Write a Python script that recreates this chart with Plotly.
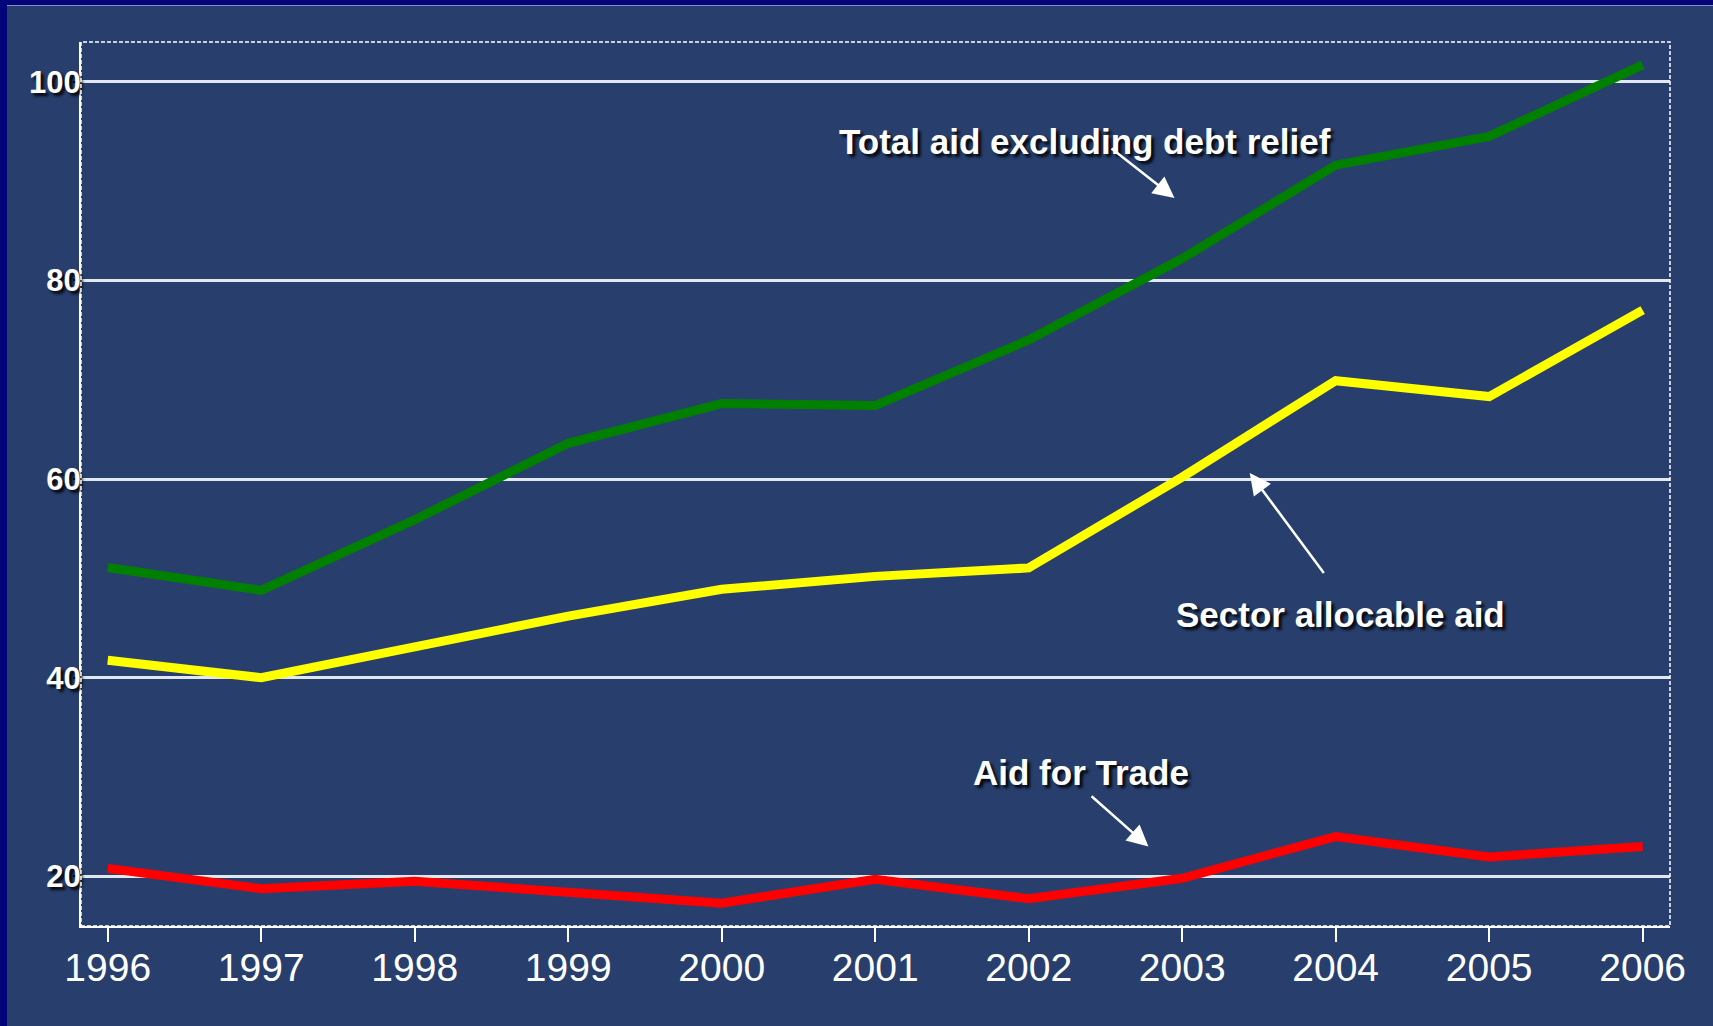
import plotly.graph_objects as go

years = [1996, 1997, 1998, 1999, 2000, 2001, 2002, 2003, 2004, 2005, 2006]
total_aid_excl_debt = [51.1, 48.8, 55.9, 63.6, 67.6, 67.4, 74.0, 82.2, 91.6, 94.5, 101.7]
sector_allocable = [41.75, 40.0, 43.1, 46.2, 48.9, 50.2, 51.05, 60.2, 69.9, 68.3, 77.0]
aid_for_trade = [20.8, 18.75, 19.5, 18.5, 17.3, 19.7, 17.75, 19.8, 24.0, 21.95, 23.0]
y_ticks = [20, 40, 60, 80, 100]
x_tick_labels = [str(y) for y in years]

W, H = 1713, 1026
ML, MR, MT, MB = 81, 43, 42, 100
PW, PH = W - ML - MR, H - MT - MB

def px_x(p):
    return (p - ML) / PW

def px_y(p):
    return (H - MB - p) / PH

BG = "#283F6D"
NAVY = "#03037A"
SHADOW = "3px 3px 3px rgba(0,0,0,0.9)"
LABEL_FONT = dict(family="Liberation Sans Narrow, Arial Narrow, Liberation Sans, Arial",
                  size=35, color="white", weight="bold", shadow=SHADOW)

fig = go.Figure()
fig.add_trace(go.Scatter(x=years, y=total_aid_excl_debt, mode="lines",
                         line=dict(color="#008000", width=9), name="Total aid excluding debt relief"))
fig.add_trace(go.Scatter(x=years, y=sector_allocable, mode="lines",
                         line=dict(color="#FFFF00", width=9), name="Sector allocable aid"))
fig.add_trace(go.Scatter(x=years, y=aid_for_trade, mode="lines",
                         line=dict(color="#FF0000", width=9), name="Aid for Trade"))

annotations = [
    dict(x=2002.37, y=94.0, xref="x", yref="y", text="Total aid excluding debt relief",
         showarrow=False, font=LABEL_FONT, xanchor="center", yanchor="middle"),
    dict(x=2004.03, y=46.4, xref="x", yref="y", text="Sector allocable aid",
         showarrow=False, font=LABEL_FONT, xanchor="center", yanchor="middle"),
    dict(x=2002.34, y=30.5, xref="x", yref="y", text="Aid for Trade",
         showarrow=False, font=LABEL_FONT, xanchor="center", yanchor="middle"),
]
arrows = [
    ((2002.53, 93.4), (2002.95, 88.3)),
    ((2003.93, 50.4), (2003.44, 60.6)),
    ((2002.40, 28.2), (2002.78, 23.0)),
]
for (tx, ty), (hx, hy) in arrows:
    annotations.append(dict(x=hx, y=hy, ax=tx, ay=ty, xref="x", yref="y", axref="x", ayref="y",
                            text="", showarrow=True, arrowhead=2, arrowsize=1.7,
                            arrowwidth=2.5, arrowcolor="white", standoff=0, startstandoff=0))

shapes = [
    dict(type="rect", xref="paper", yref="paper", x0=0, y0=0, x1=1, y1=1,
         line=dict(color="white", width=1.5, dash="4px,2px"), layer="above"),
    dict(type="rect", xref="paper", yref="paper", x0=px_x(0), x1=px_x(7), y0=px_y(H), y1=px_y(0),
         line=dict(width=0), fillcolor=NAVY, layer="below"),
    dict(type="rect", xref="paper", yref="paper", x0=px_x(0), x1=px_x(W), y0=px_y(5), y1=px_y(0),
         line=dict(width=0), fillcolor=NAVY, layer="below"),
    dict(type="line", xref="paper", yref="paper", x0=px_x(7), x1=px_x(W), y0=px_y(5.5), y1=px_y(5.5),
         line=dict(color="#7F8CC8", width=1), layer="below"),
]

fig.update_layout(
    width=W, height=H,
    template="none",
    margin=dict(l=ML, r=MR, t=MT, b=MB, pad=0),
    paper_bgcolor=BG, plot_bgcolor=BG,
    showlegend=False, hovermode=False,
    annotations=annotations, shapes=shapes,
    xaxis=dict(range=[1995.826, 2006.178], tickvals=years, ticktext=x_tick_labels,
               showgrid=False, zeroline=False, showline=True, linecolor="white", linewidth=2,
               ticks="outside", ticklen=14, tickwidth=2, tickcolor="white",
               tickfont=dict(family="Liberation Sans, Arial", size=39, color="white"),
               ticklabelstandoff=-8, automargin=False, fixedrange=True),
    yaxis=dict(range=[15, 104], tickvals=y_ticks, ticktext=[str(v) for v in y_ticks],
               showgrid=True, gridcolor="#E2E8F0", gridwidth=3, zeroline=False,
               showline=True, linecolor="white", linewidth=2,
               ticks="outside", ticklen=6, tickwidth=2, tickcolor="black",
               tickfont=dict(family="Liberation Sans Narrow, Arial Narrow, Liberation Sans, Arial",
                             size=31, color="white", weight="bold", shadow=SHADOW),
               ticklabelstandoff=-14, automargin=False, fixedrange=True),
)

fig.write_html(
    "out.html",
    config={"displayModeBar": False},
    post_script="document.body.style.margin='0';document.body.style.padding='0';"
                "document.body.style.overflow='hidden';",
)
